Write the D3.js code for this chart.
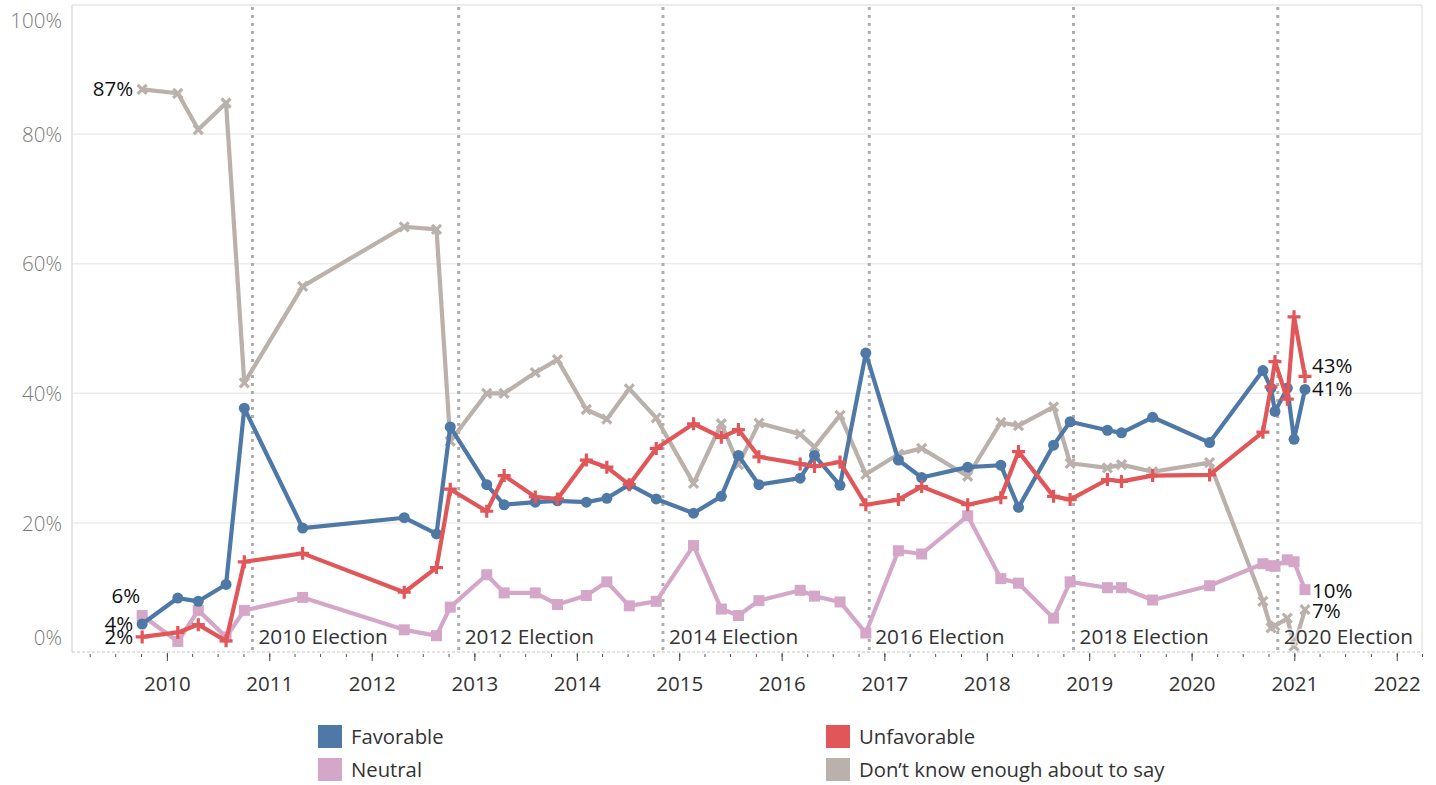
<!DOCTYPE html>
<html><head><meta charset="utf-8">
<script src="https://cdn.jsdelivr.net/npm/d3@7"></script>
<style>
html,body{margin:0;padding:0;background:#fff;}
svg{display:block;font-family:"Open Sans","Noto Sans",sans-serif;}
</style></head><body>
<svg id="chart" width="1436" height="785"></svg>
<script>
// ---------- data ----------
const dates = ["2009-10-05","2010-02-09","2010-04-23","2010-07-31","2010-10-04","2011-04-30",
  "2012-04-26","2012-08-19","2012-10-07","2013-02-14","2013-04-17","2013-08-06","2013-10-24",
  "2014-02-04","2014-04-18","2014-07-07","2014-10-11","2015-02-21","2015-05-31","2015-07-31",
  "2015-10-12","2016-03-07","2016-04-27","2016-07-27","2016-10-27","2017-02-20","2017-05-14",
  "2017-10-25","2018-02-20","2018-04-24","2018-08-27","2018-10-25","2019-03-07","2019-04-26",
  "2019-08-15","2020-03-05","2020-09-11","2020-10-10","2020-10-24","2020-12-07","2020-12-31","2021-02-08"];
const favorable = [4.4,8.4,7.9,10.5,37.7,19.2,20.8,18.3,34.8,25.9,22.8,23.2,23.4,23.2,23.8,25.9,23.7,
  21.5,24.1,30.4,25.9,26.9,30.4,25.8,46.2,29.7,27.0,28.6,28.9,22.4,32.0,35.6,34.3,33.9,36.3,32.4,
  43.5,40.8,37.2,40.8,32.9,40.6];
const unfavorable = [2.4,3.1,4.3,1.8,14.0,15.3,9.3,13.1,25.2,21.8,27.3,24.0,23.7,29.7,28.6,25.9,31.5,
  35.3,33.2,34.4,30.2,29.1,28.7,29.4,22.8,23.6,25.6,22.8,23.9,31.0,24.1,23.6,26.7,26.4,27.3,27.4,
  34.0,41.0,44.9,39.1,51.8,42.6];
const neutral = [5.7,1.7,6.5,2.4,6.5,8.5,3.5,2.6,7.0,12.0,9.2,9.2,7.4,8.8,10.9,7.2,7.9,16.5,6.7,5.7,
  8.0,9.6,8.7,7.8,3.0,15.7,15.2,21.1,11.4,10.7,5.3,10.9,10.0,10.0,8.1,10.3,13.7,13.4,13.3,14.3,14.0,9.7];
const dontKnow = [86.9,86.3,80.7,84.8,41.6,56.5,65.7,65.3,32.6,40.0,40.0,43.2,45.2,37.5,36.0,40.7,36.2,
  26.1,35.3,29.0,35.4,33.7,31.7,36.6,27.5,30.6,31.5,27.2,35.5,35.0,37.9,29.2,28.5,29.0,27.9,29.3,
  7.9,3.8,4.1,5.3,1.0,6.6];
const seriesNames = ["Favorable","Unfavorable","Neutral","Don’t know enough about to say"];
const seriesColors = ["#4e79a7","#e15759","#d4a6c8","#bab0ac"];
const electionDates = ["2010-11-02","2012-11-06","2014-11-04","2016-11-08","2018-11-06","2020-11-03"];
const electionLabels = ["2010 Election","2012 Election","2014 Election","2016 Election","2018 Election","2020 Election"];
const yTicks = [0,20,40,60,80,100];
const xDomain = ["2009-01-28","2022-04-01"];

// ---------- setup ----------
const parse = d3.timeParse("%Y-%m-%d");
const svg = d3.select("#chart");
const L = 72, R = 1422, T = 5, B = 652;
const x = d3.scaleTime().domain(xDomain.map(parse)).range([L, R]);
const y = d3.scaleLinear().domain([0, 100]).range([652.5, 4.5]);
const pdates = dates.map(parse);

const series = [favorable, unfavorable, neutral, dontKnow].map((vals, i) => ({
  name: seriesNames[i], color: seriesColors[i], key: i,
  pts: vals.map((v, j) => ({date: pdates[j], v}))
}));

// gridlines
svg.append("g").selectAll("line").data(yTicks.filter(t => t > 0 && t < 100)).join("line")
  .attr("x1", L).attr("x2", R).attr("y1", d => y(d)).attr("y2", d => y(d))
  .attr("stroke", "#ececec").attr("stroke-width", 1.5);

// frame
svg.append("line").attr("x1", L).attr("x2", R).attr("y1", T).attr("y2", T).attr("stroke", "#e6e6e6").attr("stroke-width", 1.5);
svg.append("line").attr("x1", L).attr("x2", L).attr("y1", T).attr("y2", B).attr("stroke", "#dedede").attr("stroke-width", 1.5);
svg.append("line").attr("x1", R).attr("x2", R).attr("y1", T).attr("y2", B).attr("stroke", "#e6e6e6").attr("stroke-width", 1.5);
svg.append("line").attr("x1", L).attr("x2", R).attr("y1", B).attr("y2", B).attr("stroke", "#c4c4c4").attr("stroke-width", 1).attr("stroke-dasharray", "3,2");

// y axis
const yAxis = svg.append("g").attr("transform", `translate(${L - 10},0)`)
  .call(d3.axisLeft(y).tickValues(yTicks).tickSize(0).tickFormat(d => d + "%"));
yAxis.select(".domain").remove();
yAxis.selectAll("text").attr("font-family", "Open Sans").attr("font-size", 20.5).attr("font-weight", 300)
  .attr("fill", "#7a7a7a").attr("x", 0)
  .attr("dy", d => d === 100 ? "1.12em" : (d === 0 ? "-0.38em" : "0.35em"));

// x axis (major + minor ticks)
const xMinor = svg.append("g").attr("transform", `translate(0,${B + 2})`)
  .call(d3.axisBottom(x).ticks(d3.timeMonth.every(3)).tickSize(3).tickFormat(""));
xMinor.select(".domain").remove();
xMinor.selectAll("line").attr("stroke", "#555");
const xMajor = svg.append("g").attr("transform", `translate(0,${B + 1})`)
  .call(d3.axisBottom(x).ticks(d3.timeYear.every(1)).tickSize(8).tickPadding(15).tickFormat(d3.timeFormat("%Y")));
xMajor.select(".domain").remove();
xMajor.selectAll("line").attr("stroke", "#444");
xMajor.selectAll("text").attr("font-family", "Open Sans").attr("font-size", 20.5).attr("fill", "#333");

// election reference lines
const eg = svg.append("g");
electionDates.forEach((ds, i) => {
  const ex = x(parse(ds));
  eg.append("line").attr("x1", ex).attr("x2", ex).attr("y1", T + 2).attr("y2", B)
    .attr("stroke", "#adadad").attr("stroke-width", 3).attr("stroke-dasharray", "3,5");
});

// lines + markers
const line = d3.line().x(d => x(d.date)).y(d => y(d.v));
const drawOrder = [3, 2, 0, 1];
drawOrder.forEach(k => {
  const s = series[k];
  const g = svg.append("g");
  g.append("path").datum(s.pts).attr("d", line).attr("fill", "none")
    .attr("stroke", s.color).attr("stroke-width", 4.2).attr("stroke-linejoin", "round");
  const m = g.selectAll("g.m").data(s.pts).join("g")
    .attr("transform", d => `translate(${x(d.date)},${y(d.v)})`);
  if (k === 0) {
    m.append("circle").attr("r", 5.5).attr("fill", s.color);
  } else if (k === 1) {
    m.append("path").attr("d", "M-6.5,0H6.5M0,-6.5V6.5").attr("stroke", s.color).attr("stroke-width", 3.2);
  } else if (k === 2) {
    m.append("rect").attr("x", -5.5).attr("y", -5.5).attr("width", 11).attr("height", 11).attr("fill", s.color);
  } else {
    m.append("path").attr("d", "M-4.5,-4.5L4.5,4.5M-4.5,4.5L4.5,-4.5").attr("stroke", s.color).attr("stroke-width", 3.2);
  }
});

// election labels
electionDates.forEach((ds, i) => {
  const ex = x(parse(ds));
  svg.append("text").attr("x", ex + 6).attr("y", B - 8)
    .attr("font-size", 20.8).attr("fill", "#333")
    .attr("stroke", "#fff").attr("stroke-width", 3).attr("stroke-opacity", 0.6)
    .attr("paint-order", "stroke")
    .text(electionLabels[i]);
});

// data labels (first and last points)
const startOffsets = [{dx: -9, dy: 0}, {dx: -9, dy: 0}, {dx: -2, dy: -20}, {dx: -9, dy: 0}];
const endOffsets = [{dx: 7, dy: 0}, {dx: 7, dy: -10}, {dx: 7, dy: 1}, {dx: 7, dy: 1}];
series.forEach((s, k) => {
  const f = s.pts[0], l = s.pts[s.pts.length - 1];
  svg.append("text").attr("x", x(f.date) + startOffsets[k].dx).attr("y", y(f.v) + startOffsets[k].dy + 7)
    .attr("text-anchor", "end").attr("font-size", 20.5).attr("fill", "#111")
    .text(Math.round(f.v) + "%");
  svg.append("text").attr("x", x(l.date) + endOffsets[k].dx).attr("y", y(l.v) + endOffsets[k].dy + 7)
    .attr("font-size", 20.5).attr("fill", "#111")
    .text(Math.round(l.v) + "%");
});

// legend
const legendPos = [[318, 725], [826, 725], [318, 758], [826, 758]];
series.forEach((s, k) => {
  const [lx, ly] = legendPos[k];
  svg.append("rect").attr("x", lx).attr("y", ly).attr("width", 24).attr("height", 23).attr("fill", s.color);
  svg.append("text").attr("x", lx + 33).attr("y", ly + 19).attr("font-size", 20.3).attr("fill", "#333").text(s.name);
});
</script>
</body></html>
